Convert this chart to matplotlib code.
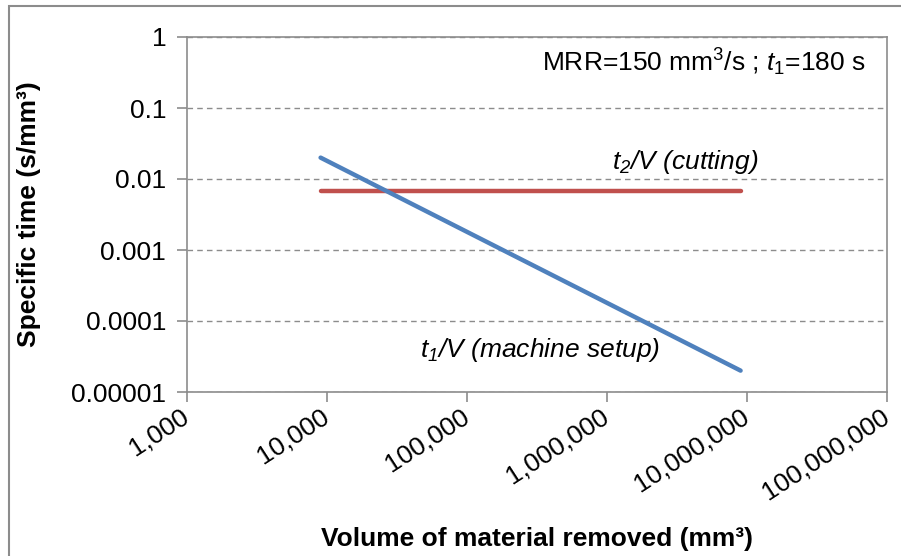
import matplotlib.pyplot as plt
from matplotlib.patches import Rectangle
from matplotlib.ticker import FixedLocator, FixedFormatter, NullLocator

plt.rcParams['font.family'] = ['Liberation Sans', 'DejaVu Sans']
plt.rcParams['mathtext.fontset'] = 'custom'
plt.rcParams['mathtext.it'] = 'Liberation Sans:italic'
plt.rcParams['mathtext.rm'] = 'Liberation Sans'

# data
volume = [9000, 90000, 900000, 9000000]          # mm3
setup_per_vol = [0.02, 0.002, 0.0002, 0.00002]   # t1/V, s/mm3
cutting_per_vol = [0.00667, 0.00667, 0.00667, 0.00667]  # t2/V, s/mm3

xticks = [1e3, 1e4, 1e5, 1e6, 1e7, 1e8]
xlabels = ['1,000', '10,000', '100,000', '1,000,000', '10,000,000', '100,000,000']
yticks = [1e-5, 1e-4, 1e-3, 1e-2, 1e-1, 1]
ylabels = ['0.00001', '0.0001', '0.001', '0.01', '0.1', '1']

fs = 19

fig = plt.figure(figsize=(9.01, 5.56), dpi=100)
ax = fig.add_axes([187/901, 1-392/556, 700/901, 355/556])

ax.plot(volume, cutting_per_vol, color='#C0504D', lw=3.2, solid_capstyle='round', zorder=3)
ax.plot(volume, setup_per_vol, color='#4F81BD', lw=3.2, solid_capstyle='round', zorder=4)

ax.set_xscale('log')
ax.set_yscale('log')
ax.set_xlim(1e3, 1e8)
ax.set_ylim(1e-5, 1)

ax.xaxis.set_major_locator(FixedLocator(xticks))
ax.xaxis.set_major_formatter(FixedFormatter(xlabels))
ax.xaxis.set_minor_locator(NullLocator())
ax.yaxis.set_major_locator(FixedLocator(yticks))
ax.yaxis.set_major_formatter(FixedFormatter(ylabels))
ax.yaxis.set_minor_locator(NullLocator())

ax.grid(axis='y', color='#8C8C8C', ls=(0, (4, 3)), lw=1)
ax.set_axisbelow(True)
for s in ax.spines.values():
    s.set_color('#8C8C8C')
    s.set_linewidth(1.2)
ax.tick_params(axis='both', colors='#8C8C8C', labelcolor='black', length=7, width=1.2, labelsize=fs)
ax.tick_params(axis='y', pad=8)
ax.tick_params(axis='x', pad=9)
plt.setp(ax.get_xticklabels(), rotation=33, ha='right', va='center', rotation_mode='anchor')

ax.set_ylabel('Specific time (s/mm³)', fontsize=fs, fontweight='bold')
ax.yaxis.set_label_coords(-0.208, 0.5)
ax.set_xlabel('Volume of material removed (mm³)', fontsize=fs, fontweight='bold')
ax.xaxis.set_label_coords(0.5, -0.38)

ax.text(0.97, 0.93, 'MRR=150 mm$^\\mathregular{3}$/s ; $t_\\mathregular{1}$=180 s',
        transform=ax.transAxes, ha='right', va='center', fontsize=fs)
ax.text(0.711, 0.648, '$t_\\mathregular{2}$/$V$ (cutting)', transform=ax.transAxes,
        ha='center', va='center', fontsize=fs, style='italic')
ax.text(0.504, 0.118, '$t_\\mathregular{1}$/$V$ (machine setup)', transform=ax.transAxes,
        ha='center', va='center', fontsize=fs, style='italic')

fig.patches.append(Rectangle((9/901, -0.05), 1.0, 1-6/556+0.05, transform=fig.transFigure,
                             fill=False, edgecolor='#8C8C8C', lw=1.5))

fig.savefig('out.png', dpi=100)
